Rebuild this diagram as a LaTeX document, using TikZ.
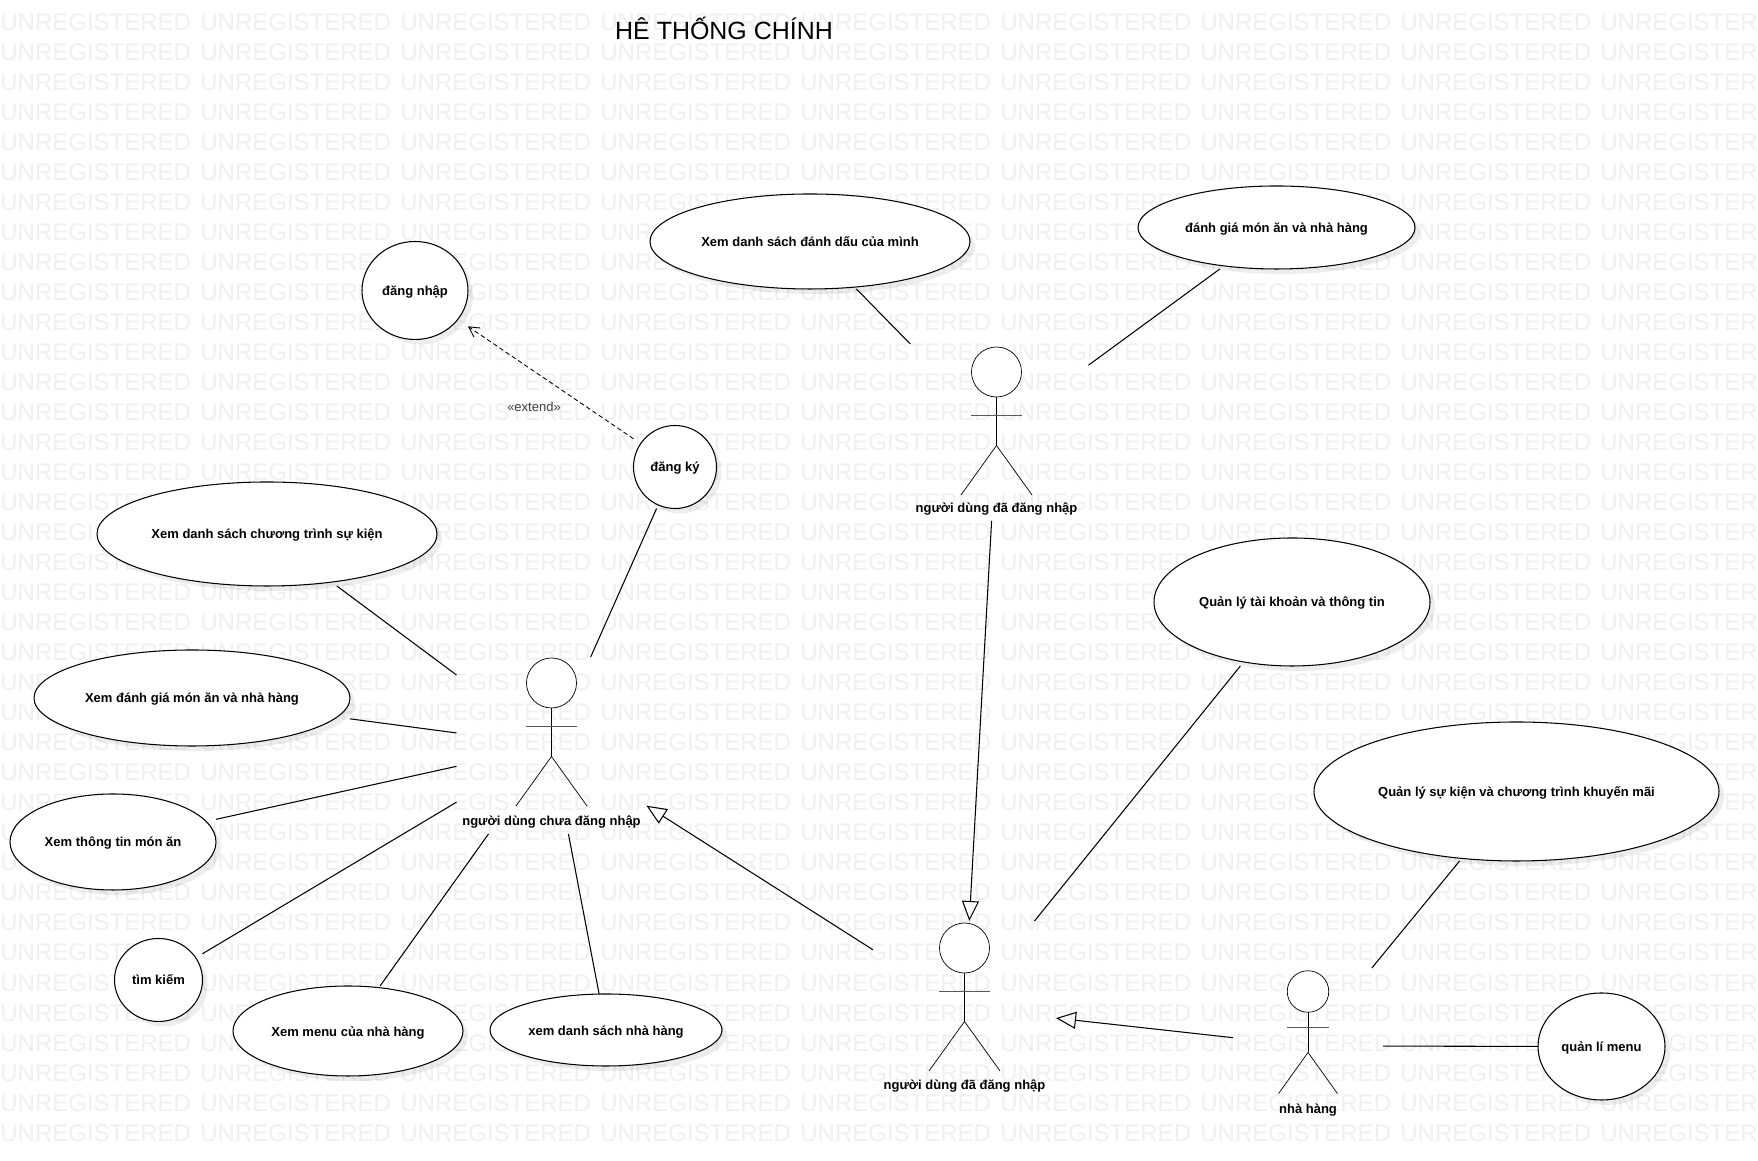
\documentclass[tikz,border=0pt]{standalone}
\usepackage{fontspec}
\setmainfont{Liberation Sans}
\usetikzlibrary{arrows.meta,shadows,shapes.geometric}
\def\stickman[#1](#2){\begin{scope}[shift={(#2)},scale=#1]
	\draw[fill=white] (0, 0) circle (0.5);
	\draw (0, -0.5) -- (0, -1.47);
	\draw[armline] (-0.51, -0.87) -- (0.51, -0.87);
	\draw (-0.71, -2.46) -- (0, -1.47) -- (0.71, -2.46);
\end{scope}}
% the ellipse is drawn, the box round it holds the text and is what lines stop at
\def\usecase(#1)(#2)(#3:#4)#5{
	\node[ucshape, ucsize={#3}{#4}] (#1-shape) at (#2) {};
	\node[ucbox, ucsize={#3}{#4}] (#1) at (#2) {#5};
}
\tikzset{
	ucsize/.style 2 args={minimum width=#1 cm, minimum height=#2 cm},
	ucshape/.style={ellipse, draw, fill=white, inner sep=0, line width=0.6pt, drop shadow={shadow xshift=0.1cm, shadow yshift=-0.1cm, fill=black, opacity=0.07}},
	uctext/.style={font=\fontsize{7.4}{9}\selectfont\bfseries, inner sep=0, outer sep=0, text height=7pt, text depth=1.3pt},
	ucbox/.style={rectangle, uctext},
	actorbox/.style={rectangle, inner sep=0, outer sep=0},
	armline/.style={line width=0.95pt, color=black!65},
	assocline/.style={line width=0.6pt},
	genline/.style={line width=0.6pt, -{Triangle[open, length=0.4cm, width=0.34cm]}},
	extendline/.style={line width=0.5pt, dash pattern=on 0.09cm off 0.06cm, -{Straight Barb[length=0.2cm, width=0.22cm]}},
	wmark/.style={anchor=base west, inner sep=0, color=black!6, font=\fontsize{13.66}{16}\selectfont}
}

\begin{document}
\begin{tikzpicture}
	%%%%% START %%%%%
	\useasboundingbox (0, 0) rectangle (35.16, 23.22);
	\fill[white] (0, 0) rectangle (35.16, 23.22);

	\begin{scope}
		\clip (0, 0) rectangle (35.16, 23.22);
		\foreach \row in {0,...,37}
			\foreach \col in {0,...,8}
				\node[wmark] (wm-\row-\col) at ({4*\col}, {22.60-0.6*\row}) {UNREGISTERED};
	\end{scope}

	\node[font=\fontsize{14.2}{17}\selectfont, inner sep=0] (title) at (14.48, 22.66) {HÊ THỐNG CHÍNH};

	\usecase(dangnhap)(8.30, 17.41)(2.12:1.96){đăng nhập}
	\usecase(dsdanhdau)(16.20, 18.39)(6.40:1.90){Xem danh sách đánh dấu của mình}
	\usecase(danhgia)(25.53, 18.67)(5.54:1.66){đánh giá món ăn và nhà hàng}
	\usecase(dangky)(13.50, 13.88)(1.66:1.66){đăng ký}
	\usecase(dssukien)(5.34, 12.54)(6.80:2.08){Xem danh sách chương trình sự kiện}
	\usecase(xemdanhgia)(3.84, 9.26)(6.32:1.92){Xem đánh giá món ăn và nhà hàng}
	\usecase(thongtin)(2.26, 6.38)(4.12:1.92){Xem thông tin món ăn}
	\usecase(timkiem)(3.17, 3.62)(1.76:1.66){tìm kiếm}
	\usecase(menu)(6.96, 2.60)(4.60:1.80){Xem menu của nhà hàng}
	\usecase(dsnhahang)(12.12, 2.62)(4.64:1.44){xem danh sách nhà hàng}
	\usecase(qltaikhoan)(25.84, 11.18)(5.52:2.56){Quản lý tài khoản và thông tin}
	\usecase(qlsukien)(30.33, 7.39)(8.10:2.78){Quản lý sự kiện và chương trình khuyến mãi}
	\usecase(qlmenu)(32.03, 2.29)(2.54:2.14){quản lí menu}

	% actors: the box is what the lines stop at
	\node[actorbox, minimum width=3.80cm, minimum height=3.54cm] (chualogin) at (11.03, 8.31) {};
	\node[actorbox, minimum width=3.68cm, minimum height=3.54cm] (dalogintop) at (19.93, 14.57) {};
	\node[actorbox, minimum width=3.66cm, minimum height=3.48cm] (dalogin) at (19.29, 3.06) {};
	\node[actorbox, minimum width=3.00cm, minimum height=3.12cm] (nhahang) at (26.16, 2.30) {};

	\stickman[1](11.03, 9.56)
	\stickman[1](19.93, 15.78)
	\stickman[1](19.29, 4.26)
	\stickman[0.83](26.16, 3.39)

	\node[uctext] (lblchua) at (11.03, 6.81) {người dùng chưa đăng nhập};
	\node[uctext] (lbldatop) at (19.93, 13.06) {người dùng đã đăng nhập};
	\node[uctext] (lblda) at (19.29, 1.54) {người dùng đã đăng nhập};
	\node[uctext] (lblnhahang) at (26.16, 1.06) {nhà hàng};

	\node[inner sep=0, color=black!75, font=\fontsize{7.4}{9}\selectfont] (lblextend) at (10.68, 15.09) {«extend»};
	\draw[extendline] (dangky) -- (dangnhap);

	\draw[assocline] (dangky) -- (chualogin);
	\draw[assocline] (dssukien) -- (chualogin);
	\draw[assocline] (xemdanhgia) -- (chualogin);
	\draw[assocline] (thongtin) -- (chualogin);
	\draw[assocline] (timkiem) -- (chualogin);
	\draw[assocline] (menu) -- (chualogin);
	\draw[assocline] (dsnhahang) -- (chualogin);

	\draw[assocline] (dsdanhdau) -- (dalogintop);
	\draw[assocline] (danhgia) -- (dalogintop);

	\draw[assocline] (qltaikhoan) -- (dalogin);
	\draw[assocline] (qlsukien) -- (nhahang);
	\draw[assocline] (qlmenu) -- (nhahang);

	\draw[genline] (dalogin) -- (chualogin);
	\draw[genline] (dalogintop) -- (dalogin);
	\draw[genline] (nhahang) -- (dalogin);
	%%%%% END %%%%%
\end{tikzpicture}
\end{document}
